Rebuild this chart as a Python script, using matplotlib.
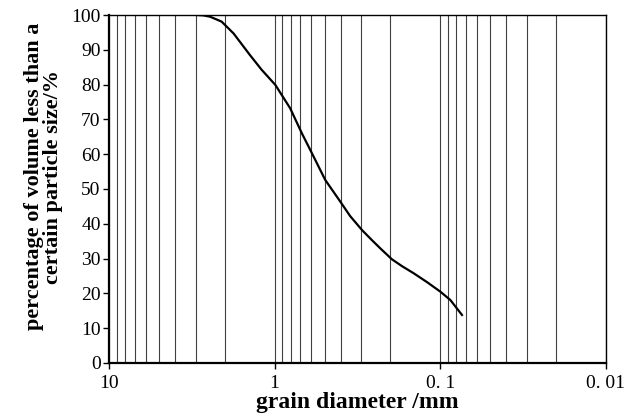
import matplotlib
matplotlib.use("Agg")
import matplotlib.pyplot as plt
from matplotlib.ticker import FixedLocator, FixedFormatter, LogLocator, NullFormatter

diameter_mm = [2.95, 2.7, 2.45, 2.09, 1.77, 1.41, 1.2, 0.99, 0.806, 0.685, 0.596, 0.495,
               0.402, 0.35, 0.297, 0.26, 0.231, 0.196, 0.17, 0.145, 0.12, 0.1, 0.087, 0.074]
percent_finer = [100, 99.9, 99.5, 98.1, 94.7, 88.5, 84.3, 79.9, 73.2, 66.0, 60.3, 52.6,
                 46.4, 42.2, 38.2, 35.4, 33.0, 29.8, 27.8, 25.8, 23.2, 20.5, 18.1, 13.8]

x_ticks = [10, 1, 0.1, 0.01]
x_tick_labels = ["10", "1", "0. 1", "0. 01"]
y_ticks = list(range(0, 101, 10))

plt.rcParams['font.family'] = ['Liberation Serif', 'DejaVu Serif']

fig = plt.figure(figsize=(6.27, 4.19), dpi=100)
ax = fig.add_axes([0.1738, 0.1337, 0.7927, 0.8305])

ax.plot(diameter_mm, percent_finer, color='black', lw=1.6, zorder=3)

ax.set_xscale('log')
ax.set_xlim(10, 0.01)
ax.set_ylim(0, 100)

ax.xaxis.set_major_locator(FixedLocator(x_ticks))
ax.xaxis.set_major_formatter(FixedFormatter(x_tick_labels))
ax.xaxis.set_minor_locator(LogLocator(base=10, subs=range(2, 10)))
ax.xaxis.set_minor_formatter(NullFormatter())
ax.set_yticks(y_ticks)

ax.grid(True, which='both', axis='x', color='#404040', lw=0.8)
ax.tick_params(axis='x', which='minor', length=0)
ax.tick_params(axis='x', which='major', direction='out', length=4, width=1, labelsize=14, pad=5)
ax.tick_params(axis='y', direction='out', length=4, width=1, labelsize=14, pad=2)

for s in ['left', 'bottom']:
    ax.spines[s].set_linewidth(1.6)
for s in ['top', 'right']:
    ax.spines[s].set_linewidth(1.0)

ax.set_xlabel('grain diameter /mm', fontsize=17, fontweight='bold', labelpad=0)
ax.set_ylabel('percentage of volume less than a\ncertain particle size/%', fontsize=16,
              fontweight='bold', linespacing=0.95, labelpad=6)
ax.yaxis.label.set_y(0.535)

fig.savefig('out.png', dpi=100)
